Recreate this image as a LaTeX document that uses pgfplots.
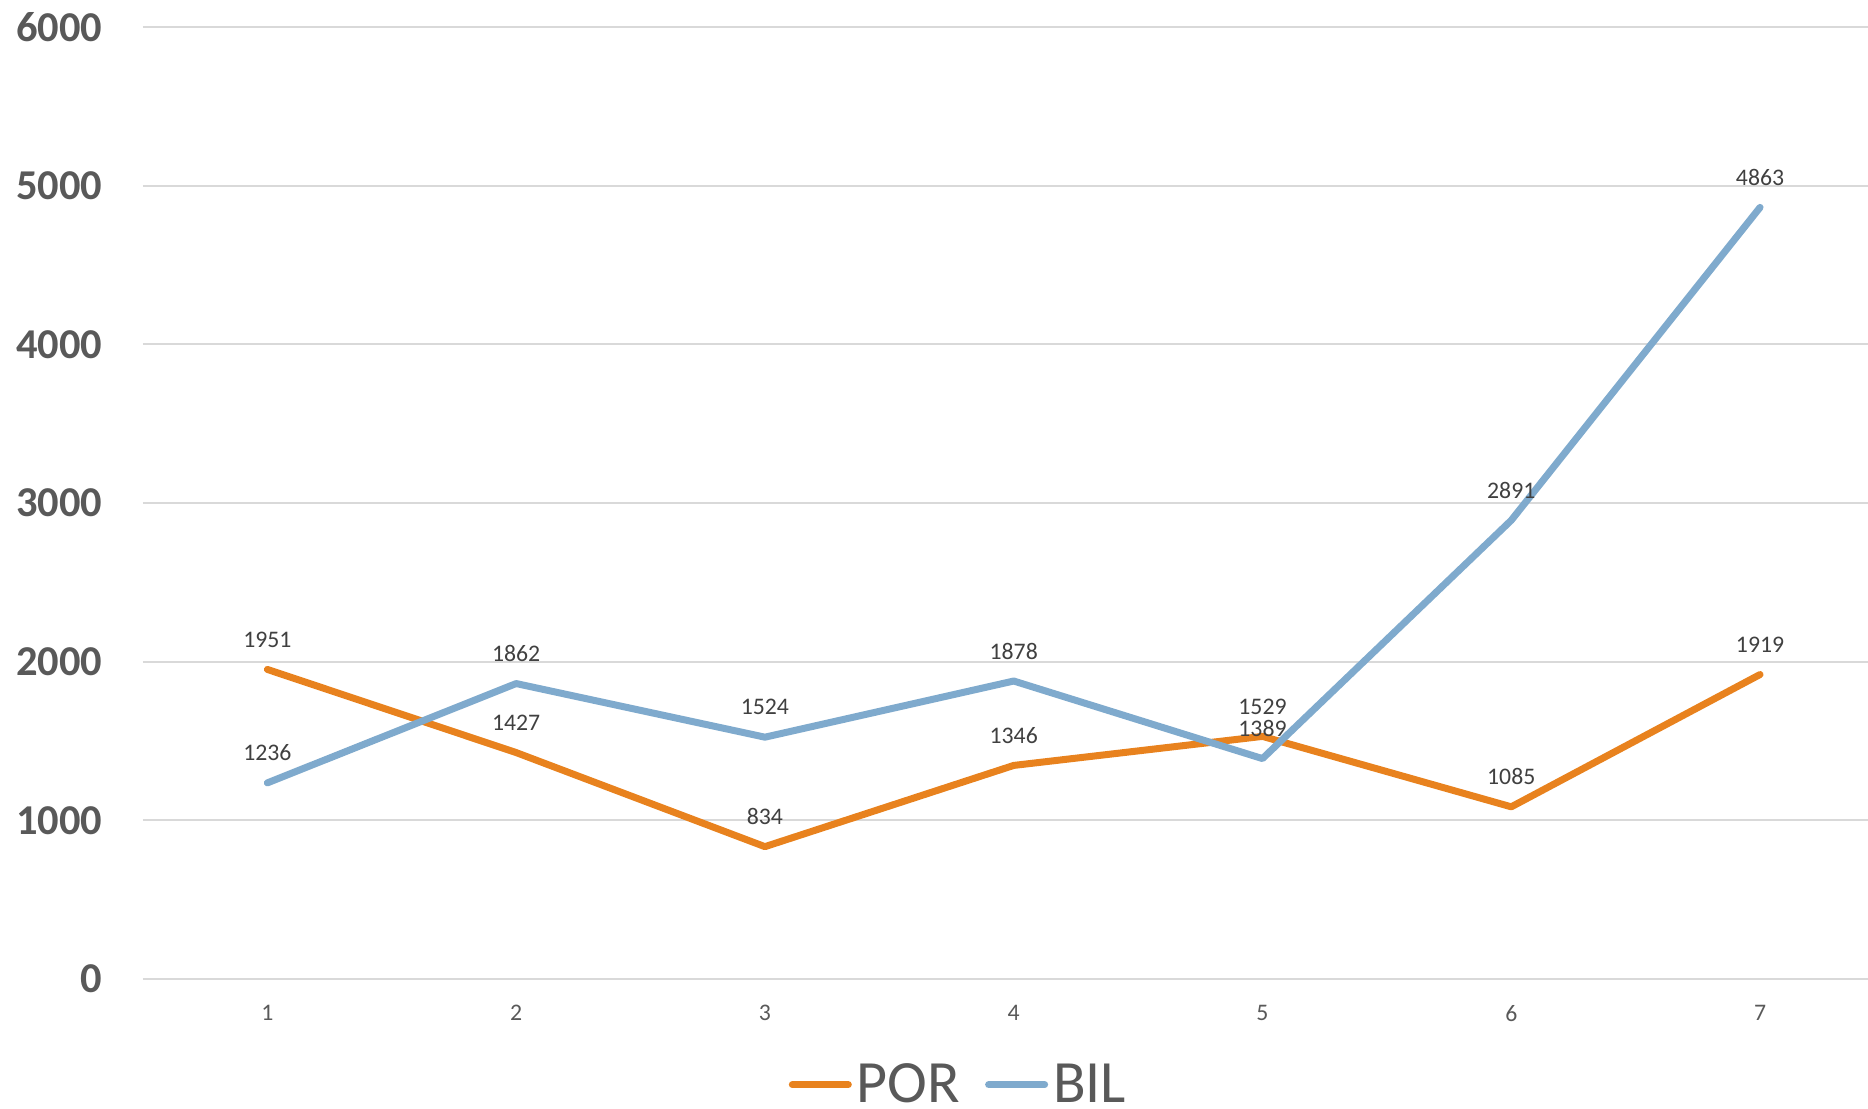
\documentclass[border=0pt]{standalone}
\usepackage{pgfplots}
\pgfplotsset{compat=1.18}
\usepackage{fontspec}
\setmainfont{Carlito}
\definecolor{por}{HTML}{E8821E}
\definecolor{bil}{HTML}{7FAACD}
\definecolor{tick}{HTML}{595959}
\definecolor{lbl}{HTML}{404040}
\definecolor{grd}{HTML}{D9D9D9}
\begin{document}
\begin{tikzpicture}
\useasboundingbox (-57.2pt,-52pt) rectangle (690pt,391.6pt);
\begin{axis}[
  at={(0pt,0pt)}, anchor=south west,
  scale only axis, width=690pt, height=380.8pt,
  xmin=0.5, xmax=7.434, ymin=0, ymax=6000,
  xtick={1,2,3,4,5,6,7}, ytick={0,1000,2000,3000,4000,5000,6000},
  major tick length=0pt,
  axis line style={draw=none},
  ymajorgrids, grid style={draw=grd, line width=0.8pt},
  clip=false,
  scaled y ticks=false,
  /pgf/number format/1000 sep={},
  /pgf/number format/assume math mode=true,
  yticklabel style={anchor=east, inner sep=0pt, xshift=-16pt, font=\fontsize{17}{20}\selectfont\bfseries, text=tick},
  xticklabel style={anchor=north, inner sep=0pt, yshift=-10.4pt, font=\fontsize{9.5}{11}\selectfont, text=tick},
  nodes near coords,
  every node near coord/.append style={anchor=center, yshift=12pt, font=\fontsize{9.5}{11}\selectfont, text=lbl},
  legend columns=2,
  legend style={draw=none, fill=none, at={(0.4736,-0.1110)}, anchor=center,
    font=\fontsize{24}{28}\selectfont, text=tick,
    /tikz/every even column/.append style={column sep=8pt},
    nodes={inner xsep=2pt, inner ysep=0pt}},
  legend image code/.code={\draw[#1, line width=2.8pt, line cap=round] (0pt,0pt) -- (22.4pt,0pt);},
]
\addplot[por, line width=2.8pt, line cap=round, line join=round] coordinates {(1,1951) (2,1427) (3,834) (4,1346) (5,1529) (6,1085) (7,1919)};
\addlegendentry{POR}
\addplot[bil, line width=2.8pt, line cap=round, line join=round] coordinates {(1,1236) (2,1862) (3,1524) (4,1878) (5,1389) (6,2891) (7,4863)};
\addlegendentry{BIL}
\end{axis}
\end{tikzpicture}
\end{document}
